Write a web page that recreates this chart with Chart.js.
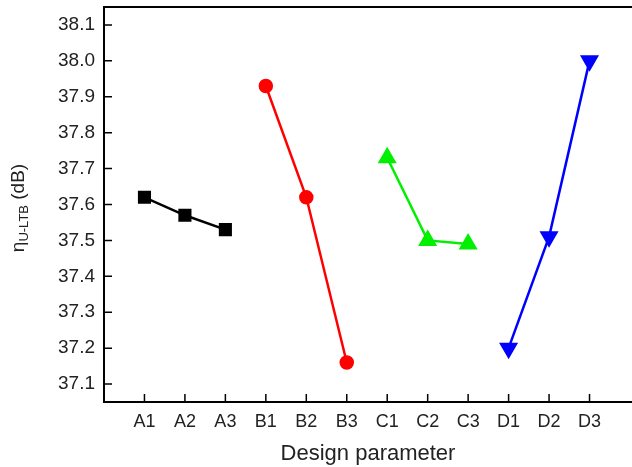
<!DOCTYPE html>
<html><head><meta charset="utf-8">
<script src="https://cdn.jsdelivr.net/npm/chart.js@4"></script>
<style>html,body{margin:0;padding:0;background:#fff;}#wrap{width:632px;height:467px;position:relative;}</style>
</head><body><div id="wrap"><canvas id="c" width="632" height="467"></canvas></div>
<script>
const categories = ["A1","A2","A3","B1","B2","B3","C1","C2","C3","D1","D2","D3"];
const seriesA = [37.62, 37.57, 37.53];
const seriesB = [37.93, 37.62, 37.16];
const seriesC = [37.73, 37.50, 37.49];
const seriesD = [37.20, 37.51, 38.00];
const yTicks = [37.1,37.2,37.3,37.4,37.5,37.6,37.7,37.8,37.9,38.0,38.1];
const xTitle = "Design parameter";

function pts(vals, start){ return vals.map((v,i)=>({x:start+i+1, y:v})); }
const FONT = '"Liberation Sans", Arial, sans-serif';

const frame = {
  id:'frame',
  afterDraw(chart){
    const {ctx, chartArea:a, scales} = chart;
    ctx.save();
    ctx.strokeStyle='#000'; ctx.lineWidth=2;
    ctx.beginPath();
    ctx.moveTo(a.right+2, a.top); ctx.lineTo(a.left, a.top); ctx.lineTo(a.left, a.bottom); ctx.lineTo(a.right+2, a.bottom);
    ctx.stroke();
    ctx.lineWidth=1.5;
    ctx.beginPath();
    scales.x.ticks.forEach(t=>{const px=scales.x.getPixelForValue(t.value); ctx.moveTo(px,a.bottom); ctx.lineTo(px,a.bottom-8);});
    scales.y.ticks.forEach(t=>{const py=scales.y.getPixelForValue(t.value); ctx.moveTo(a.left,py); ctx.lineTo(a.left+8,py);});
    ctx.stroke();
    // y title with subscript
    ctx.translate(18, 208);
    ctx.rotate(-Math.PI/2);
    ctx.fillStyle='#222';
    ctx.textBaseline='alphabetic';
    const big='19px '+FONT, small='13px '+FONT;
    ctx.font=big; const w1=ctx.measureText('η').width;
    ctx.font=small; const w2=ctx.measureText('U-LTB').width;
    ctx.font=big; const w3=ctx.measureText(' (dB)').width;
    let x=-(w1+w2+w3)/2;
    ctx.font=big; ctx.fillText('η', x, 6); x+=w1;
    ctx.font=small; ctx.fillText('U-LTB', x, 10); x+=w2;
    ctx.font=big; ctx.fillText(' (dB)', x, 6);
    ctx.restore();
  }
};

new Chart(document.getElementById('c'), {
  type:'scatter',
  data:{datasets:[
    {data:pts(seriesA,0), showLine:true, borderColor:'#000', backgroundColor:'#000', borderWidth:2.5, pointStyle:'rect', pointRadius:7.5},
    {data:pts(seriesB,3), showLine:true, borderColor:'#ff0000', backgroundColor:'#ff0000', borderWidth:2.5, pointStyle:'circle', pointRadius:6},
    {data:pts(seriesC,6), showLine:true, borderColor:'#00f000', backgroundColor:'#00f000', borderWidth:2.5, pointStyle:'triangle', pointRadius:8.5},
    {data:pts(seriesD,9), showLine:true, borderColor:'#0000ff', backgroundColor:'#0000ff', borderWidth:2.5, pointStyle:'triangle', rotation:180, pointRadius:8.5}
  ]},
  options:{
    responsive:false, animation:false,
    layout:{autoPadding:false, padding:{top:7,right:0,left:0,bottom:0}},
    plugins:{legend:{display:false}, tooltip:{enabled:false}},
    scales:{
      x:{type:'linear', min:0, max:13.05,
        afterBuildTicks(s){ s.ticks = categories.map((c,i)=>({value:i+1})); },
        afterFit(s){ s.height = 65; s.paddingLeft = 0; s.paddingRight = 0; },
        ticks:{callback:(v)=>categories[v-1], font:{family:FONT, size:18}, color:'#222', padding:9, maxRotation:0, autoSkip:false},
        grid:{display:false, drawTicks:false}, border:{display:false},
        title:{display:true, text:xTitle, font:{family:FONT, size:22}, color:'#222', padding:{top:4,bottom:0}}
      },
      y:{type:'linear', min:37.05, max:38.15,
        afterBuildTicks(s){ s.ticks = yTicks.map(v=>({value:v})); },
        afterFit(s){ s.width = 104; s.paddingTop = 0; s.paddingBottom = 0; },
        ticks:{callback:(v)=>v.toFixed(1), font:{family:FONT, size:19}, color:'#222', padding:9},
        grid:{display:false, drawTicks:false}, border:{display:false}
      }
    }
  },
  plugins:[frame]
});
</script></body></html>
